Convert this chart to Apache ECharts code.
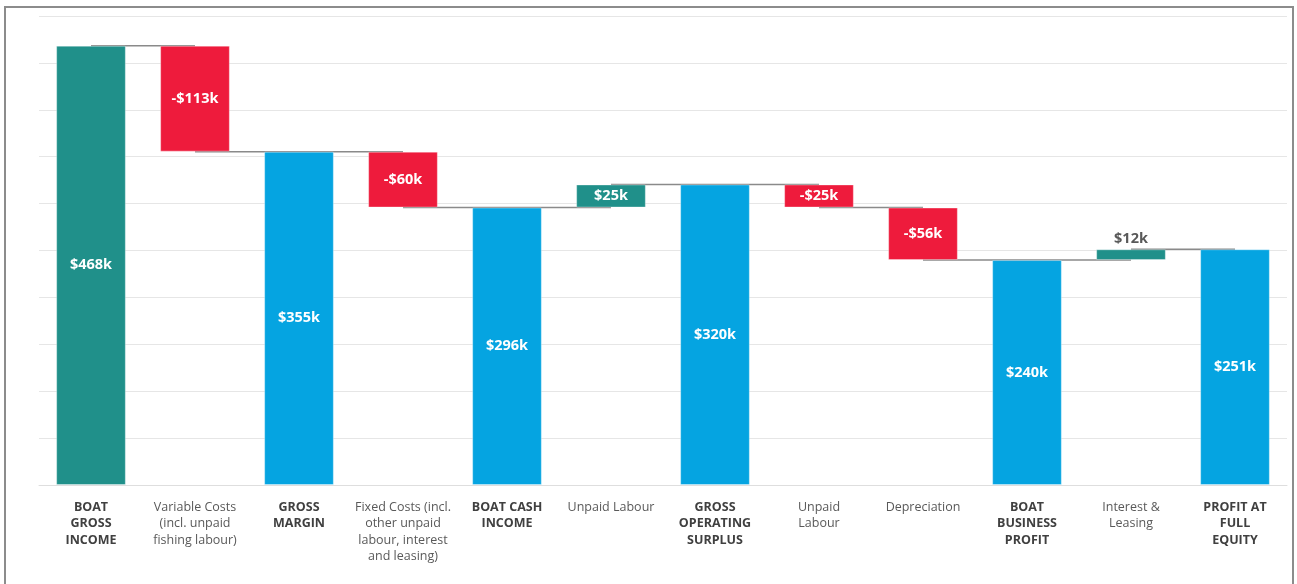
<!DOCTYPE html>
<html>
<head>
<meta charset="utf-8">
<script src="https://cdn.jsdelivr.net/npm/echarts@6/dist/echarts.min.js"></script>
<style>
  html, body { margin: 0; padding: 0; background: #ffffff; }
  #wrap { position: relative; width: 1297px; height: 584px; overflow: hidden; }
  #frame { position: absolute; left: 4px; top: 6px; width: 1290px; height: 620px;
           border: 2px solid #8c8c8c; box-sizing: border-box; }
  #chart { position: absolute; left: 0; top: 0; width: 1297px; height: 584px; }
</style>
</head>
<body>
<div id="wrap">
  <div id="frame"></div>
  <div id="chart"></div>
</div>
<script>
// Waterfall categories (line breaks as shown under each bar)
const categories = [
  'BOAT\nGROSS\nINCOME',
  'Variable Costs\n(incl. unpaid\nfishing labour)',
  'GROSS\nMARGIN',
  'Fixed Costs (incl.\nother unpaid\nlabour, interest\nand leasing)',
  'BOAT CASH\nINCOME',
  'Unpaid Labour',
  'GROSS\nOPERATING\nSURPLUS',
  'Unpaid\nLabour',
  'Depreciation',
  'BOAT\nBUSINESS\nPROFIT',
  'Interest &\nLeasing',
  'PROFIT AT\nFULL\nEQUITY'
];

// Step amounts in $k; null marks a subtotal bar showing the running total
const steps = [468.4, -113.0, null, -59.6, null, 24.6, null, -24.6, -56.0, null, 11.5, null];

// Which categories are totals (bold labels, blue bars) – the first is the starting figure
const isTotal = [true, false, true, false, true, false, true, false, false, true, false, true];

const yTicks = { min: 0, max: 500, interval: 50 };

const COLORS = { start: '#20908a', up: '#20908a', down: '#ee1b3c', total: '#05a4e1' };

// Build floating bars from the step list
const baseData = [], barData = [], levels = [];
let running = 0;
steps.forEach((s, i) => {
  let low, high, color, label, labelPos = 'inside', labelColor = '#ffffff';
  if (i === 0) {
    running = s; low = 0; high = s; color = COLORS.start;
    label = '$' + Math.round(s) + 'k';
  } else if (s === null) {
    low = 0; high = running; color = COLORS.total;
    label = '$' + Math.round(running) + 'k';
  } else {
    const prev = running;
    running = prev + s;
    low = Math.min(prev, running); high = Math.max(prev, running);
    color = s < 0 ? COLORS.down : COLORS.up;
    label = (s < 0 ? '-$' : '$') + Math.round(Math.abs(s)) + 'k';
    if (high - low < 15) { labelPos = 'top'; labelColor = '#595959'; }
  }
  levels.push(running);
  baseData.push(low);
  barData.push({
    value: high - low,
    itemStyle: { color: color },
    label: { formatter: label, position: labelPos, color: labelColor }
  });
});

// Connector lines: from bar i to bar i+1 at the running level after bar i
const connectorData = [];
for (let i = 0; i < levels.length - 1; i++) connectorData.push([i, levels[i]]);

const FONT = '"Open Sans", "DejaVu Sans", sans-serif';

const chart = echarts.init(document.getElementById('chart'), null, { renderer: 'canvas' });
chart.setOption({
  animation: false,
  backgroundColor: 'transparent',
  grid: { left: 39, right: 10, top: 16, bottom: 99, containLabel: false },
  xAxis: {
    type: 'category',
    data: categories,
    axisTick: { show: false },
    axisLine: { show: true, lineStyle: { color: '#dedede', width: 1 } },
    axisLabel: {
      interval: 0,
      margin: 14,
      verticalAlign: 'top',
      fontFamily: FONT,
      fontSize: 12.5,
      lineHeight: 16.5,
      formatter: (v, idx) => isTotal[idx] ? '{b|' + v.split('\n').join('}\n{b|') + '}'
                                          : '{n|' + v.split('\n').join('}\n{n|') + '}',
      rich: {
        b: { fontFamily: FONT, fontWeight: 'bold', fontSize: 12.5, color: '#404040', lineHeight: 16.5 },
        n: { fontFamily: FONT, fontWeight: 'normal', fontSize: 12.5, color: '#595959', lineHeight: 16.5 }
      }
    }
  },
  yAxis: {
    type: 'value',
    min: yTicks.min, max: yTicks.max, interval: yTicks.interval,
    axisLabel: { show: false },
    axisLine: { show: false },
    axisTick: { show: false },
    splitLine: { show: true, lineStyle: { color: '#e6e6e6', width: 1.2 } }
  },
  series: [
    {
      type: 'custom',
      name: 'connectors',
      z: 1,
      silent: true,
      data: connectorData,
      renderItem: (params, api) => {
        const p0 = api.coord([api.value(0), api.value(1)]);
        const p1 = api.coord([api.value(0) + 1, api.value(1)]);
        return {
          type: 'line',
          shape: { x1: p0[0], y1: p0[1], x2: p1[0], y2: p1[1] },
          style: { stroke: '#8a8a8a', lineWidth: 1.5 }
        };
      }
    },
    {
      type: 'bar',
      name: 'base',
      stack: 'wf',
      z: 2,
      barWidth: '67%',
      silent: true,
      itemStyle: { color: 'transparent' },
      data: baseData
    },
    {
      type: 'bar',
      name: 'amount',
      stack: 'wf',
      z: 2,
      barWidth: '67%',
      itemStyle: { borderColor: 'rgba(255,255,255,0.35)', borderWidth: 1 },
      label: {
        show: true,
        fontFamily: FONT,
        fontWeight: 'bold',
        fontSize: 14.5,
        distance: 3
      },
      data: barData
    }
  ]
});
</script>
</body>
</html>
